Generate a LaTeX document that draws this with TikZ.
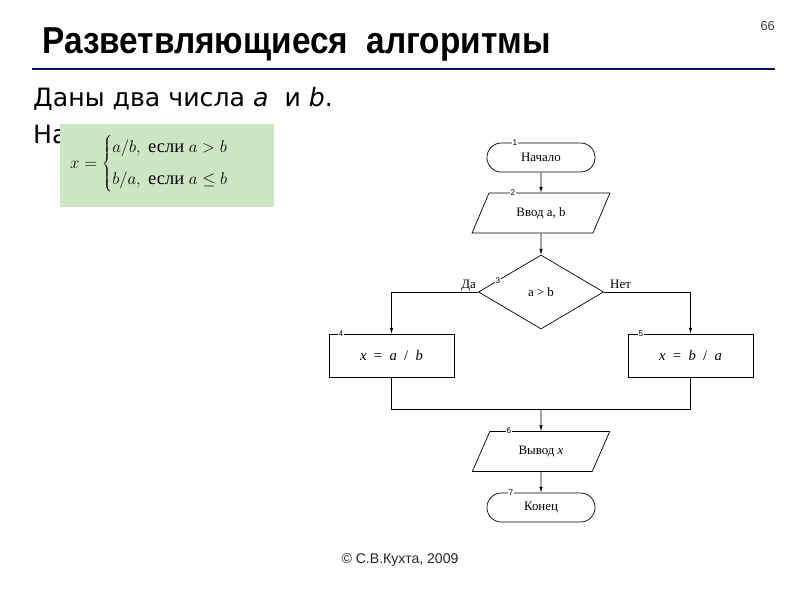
\documentclass[tikz,border=0pt]{standalone}
\usepackage{fontspec}
\setmainfont{Liberation Serif}
\newfontfamily\titlefnt{Liberation Sans}
\newfontfamily\bodyfnt{DejaVu Sans}
\usetikzlibrary{shapes.geometric,arrows.meta}
\definecolor{navy}{RGB}{12,16,100}
\definecolor{formgreen}{RGB}{205,230,195}
\tikzset{
	chart/.style={draw, line width=0.6pt, font=\fontsize{11}{13}\selectfont, inner sep=0pt},
	term/.style={chart, rectangle, rounded corners=0.43cm, minimum width=3.24cm, minimum height=0.87cm},
	inout/.style={chart, trapezium, trapezium left angle=55, trapezium right angle=125, trapezium stretches=true, minimum width=4.14cm, minimum height=1.2cm},
	cond/.style={chart, diamond, minimum width=3.75cm, minimum height=2.22cm},
	proc/.style={chart, rectangle, minimum width=3.75cm, minimum height=1.29cm, font=\fontsize{12.5}{14}\selectfont},
	num/.style={fill=white, inner sep=0.5pt, font=\titlefnt\fontsize{7}{8}\selectfont},
	arr/.style={line width=0.6pt, -{Latex[length=5pt,width=3pt]}},
	lne/.style={line width=0.6pt}
}
\begin{document}
\begin{tikzpicture}[x=0.03cm, y=-0.03cm]
	\useasboundingbox[fill=white] (0,0) rectangle (800,600);
	% heading
	\node[anchor=base east, font=\titlefnt\fontsize{11}{13}\selectfont, text=black!75] (page) at (779,31) {66};
	\node[anchor=base west, inner sep=0pt, font=\titlefnt\bfseries\fontsize{32}{36}\selectfont] (title) at (42,54) {\scalebox{0.89}[1]{Разветвляющиеся\ \ алгоритмы}};
	\draw[navy, line width=2.5pt] (32,69) -- (775,69);
	% task text
	\node[anchor=base west, inner sep=0pt, font=\bodyfnt\fontsize{21.5}{25}\selectfont] (line1) at (33,107) {Даны два числа \textit{a}\ \ и \textit{b}.};
	\node[anchor=base west, inner sep=0pt, font=\bodyfnt\fontsize{21.5}{25}\selectfont] (line2) at (33,144) {На};
	\node[fill=formgreen, minimum width=6.42cm, minimum height=2.49cm, anchor=north west, inner sep=0pt] (formula) at (60,124) {};
	\node[anchor=west, inner sep=0pt, font=\fontsize{15.8}{19}\selectfont] (rule) at (70,164) {$x=\left\{\begin{array}{@{}l@{}} a/b,\ \mbox{если}\ a>b\\[9pt] b/a,\ \mbox{если}\ a\le b\end{array}\right.$};
	% flowchart
	\node[term] (n1) at (541,157.5) {Начало};
	\node[inout] (n2) at (541,213) {Ввод a, b};
	\node[cond] (n3) at (541,292) {a > b};
	\node[proc] (n4) at (391.5,355.5) {\itshape x\ \ \upshape=\ \ \itshape a\ \ \upshape/\ \ \itshape b};
	\node[proc] (n5) at (690.5,355.5) {\itshape x\ \ \upshape=\ \ \itshape b\ \ \upshape/\ \ \itshape a};
	\node[inout] (n6) at (541,451.5) {Вывод \itshape x};
	\node[term] (n7) at (541,507.5) {Конец};
	\coordinate (join) at (541,409.5);
	\draw[arr] (n1) -- (n2);
	\draw[arr] (n2) -- (n3);
	\draw[arr] (n3.west) -| (n4.north);
	\draw[arr] (n3.east) -| (n5.north);
	\draw[lne] (n4.south) |- (join);
	\draw[lne] (n5.south) |- (join);
	\draw[arr] (join) -- (n6);
	\draw[arr] (n6) -- (n7);
	\node[anchor=base east, inner sep=0pt, font=\fontsize{11}{13}\selectfont] (yes) at (476,289) {Да};
	\node[anchor=base west, inner sep=0pt, font=\fontsize{11}{13}\selectfont] (no) at (610,289) {Нет};
	\node[num] (k1) at (515,143) {1};
	\node[num] (k2) at (513,193) {2};
	\node[num] (k3) at (498,281) {3};
	\node[num] (k4) at (341,334) {4};
	\node[num] (k5) at (641,334) {5};
	\node[num] (k6) at (509,431) {6};
	\node[num] (k7) at (511,493) {7};
	% footer
	\node[font=\titlefnt\fontsize{12}{14}\selectfont, text=black!85] (copy) at (400,560) {© С.В.Кухта, 2009};
\end{tikzpicture}
\end{document}
